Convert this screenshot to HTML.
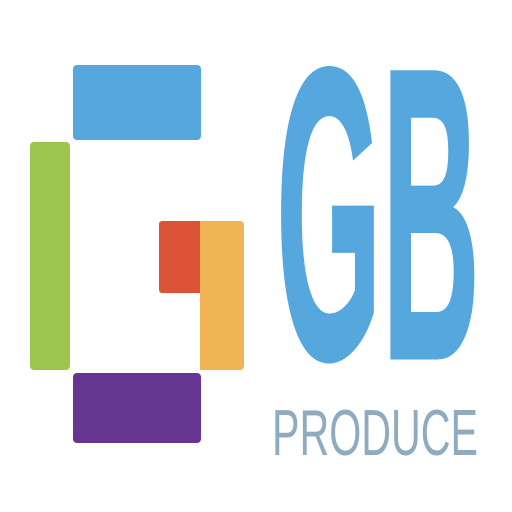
<!DOCTYPE html>
<html><head><meta charset="utf-8"><style>
html,body{margin:0;padding:0;background:#fff;width:512px;height:512px;overflow:hidden}
.b{position:absolute;border-radius:4px}
</style></head><body>
<div style="position:relative;width:512px;height:512px">
<div class="b" style="left:73px;top:65px;width:128px;height:75px;background:#55a7de"></div>
<div class="b" style="left:30px;top:142px;width:40px;height:228px;background:#9bc54f"></div>
<div class="b" style="left:159px;top:221px;width:42px;height:72px;background:#dc5236;border-radius:3px 0 0 3px"></div>
<div class="b" style="left:200px;top:221px;width:44px;height:149px;background:#f1b455;border-radius:0 4px 4px 0"></div>
<div class="b" style="left:73px;top:373px;width:128px;height:70px;background:#663592"></div>
<svg width="512" height="512" style="position:absolute;left:0;top:0">
<text x="276" y="358" font-family="Liberation Sans, sans-serif" font-weight="bold" font-size="416" textLength="204" lengthAdjust="spacingAndGlyphs" fill="#55a7de" stroke="#55a7de" stroke-width="3">GB</text>
<text x="272" y="455" font-family="Liberation Sans, sans-serif" font-size="65" textLength="206" lengthAdjust="spacingAndGlyphs" fill="#8fabc0">PRODUCE</text>
</svg>
</div>
</body></html>
